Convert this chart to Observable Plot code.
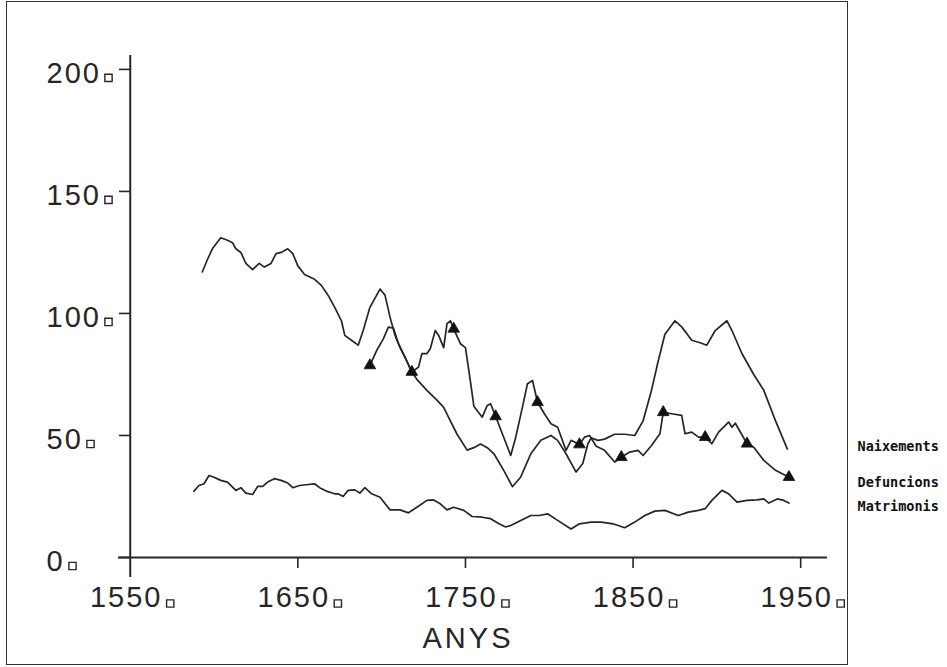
<!DOCTYPE html>
<html>
<head>
<meta charset="utf-8">
<script src="https://cdn.jsdelivr.net/npm/d3@7"></script>
<script src="https://cdn.jsdelivr.net/npm/@observablehq/plot@0.6"></script>
<style>
html, body { margin: 0; padding: 0; background: #fff; }
#wrap { position: relative; width: 947px; height: 667px; overflow: hidden; }
#chart { position: absolute; left: 0; top: 0; }
#border { position: absolute; left: 6px; top: 1px; width: 840px; height: 662px; border: 1.5px solid #333; pointer-events: none; }
</style>
</head>
<body>
<div id="wrap"><div id="chart"></div><div id="border"></div></div>
<script>
// ---- data ----
const xTicks = [1550, 1650, 1750, 1850, 1950];
const yTicks = [0, 50, 100, 150, 200];
const xTitle = "ANYS";
const legendNames = ["Naixements", "Defuncions", "Matrimonis"];

// [year, value]
const naixements = [
  [1593,117],[1596,122],[1599,126.5],[1604,131],[1608,130],[1611,129],[1613,126.5],[1616,125],
  [1619,120.5],[1623,118],[1627,120.5],[1630,119],[1634,120.5],[1637,124.5],[1640,125],[1644,126.5],
  [1647,124.5],[1650,119.5],[1654,116],[1660,114],[1664,111.5],[1668,107.5],[1672,102.5],[1676,97],
  [1678,91],[1683,88.5],[1686,87],[1689,93],[1693,102.5],[1699,110],[1702,107.5],[1705,98.5],
  [1708,91],[1711,86],[1715,80.5],[1718,76],[1721,73],[1727,68.5],[1733,64.5],[1737,61.5],
  [1741,56],[1745,50.5],[1751,44],[1755,45],[1759,46.5],[1763,45],[1767,42.5],[1773,35.5],
  [1778,29],[1783,33],[1789,42.5],[1795,48],[1801,50],[1805,48],[1810,42.5],[1816,35],
  [1820,38.5],[1823,46.5],[1825,49],[1829,48],[1833,48.5],[1839,50.5],[1845,50.5],[1851,50],
  [1856,56],[1861,68.5],[1865,80.5],[1869,91.5],[1875,97],[1879,94.5],[1885,89],[1890,88],
  [1894,87],[1899,93],[1906,97],[1909,93],[1915,83.5],[1922,75],[1928,68.5],[1935,56],[1942,44.5]
];
const defuncions = [
  [1693,78.7],[1697,84.8],[1701,89.6],[1704,94.4],[1707,94],[1710,87.6],[1714,82],[1718,76],
  [1722,78],[1724,83.5],[1727,83.5],[1729,85.5],[1732,93],[1734,91],[1737,86],[1739,95.8],
  [1741,97],[1743,93.7],[1747,87.6],[1750,86],[1753,72],[1755,62],[1760,57.5],[1763,62.3],
  [1765,63],[1768,57.8],[1772,50.7],[1777,41.8],[1780,49.3],[1784,61.6],[1787,71.2],[1790,72.5],
  [1793,63.6],[1797,59],[1801,54.8],[1805,53.4],[1810,43.9],[1813,48],[1818,46.3],[1821,49.3],
  [1824,50],[1828,45.6],[1833,43.9],[1839,39.1],[1843,41.1],[1848,43.2],[1853,43.9],[1856,41.8],
  [1861,45.9],[1866,50.7],[1868,59.5],[1873,58.9],[1879,58.2],[1881,50.7],[1885,51.4],[1889,49.3],
  [1893,49.3],[1897,46.6],[1901,51.4],[1907,55.5],[1909,53.4],[1911,55],[1918,46.6],[1922,45.2],
  [1928,39.8],[1935,35.7],[1943,32.9]
];
const defuncionsMarkerYears = [1693,1718,1743,1768,1793,1818,1843,1868,1893,1918,1943];
const matrimonis = [
  [1588,27.2],[1591,29.5],[1594,30.2],[1597,33.6],[1600,32.9],[1604,31.6],[1608,30.9],[1613,27.5],
  [1616,28.6],[1619,26.4],[1623,25.8],[1626,29.1],[1629,29.1],[1632,30.9],[1636,32.3],[1640,31.6],
  [1644,30.5],[1647,28.6],[1651,29.5],[1655,29.8],[1660,30.2],[1663,28.6],[1667,27.2],[1672,26.1],
  [1674,26.1],[1677,25],[1680,27.5],[1684,27.7],[1687,26.4],[1690,28.6],[1694,26.1],[1699,24.7],
  [1705,19.5],[1711,19.5],[1716,18.3],[1721,20.6],[1727,23.4],[1731,23.6],[1735,22],[1739,19.5],
  [1743,20.6],[1749,19.3],[1754,16.8],[1760,16.5],[1765,15.9],[1770,13.8],[1774,12.5],[1777,13.1],
  [1783,15.2],[1789,17.2],[1794,17.2],[1799,17.9],[1805,15.2],[1813,11.7],[1818,13.8],[1825,14.5],
  [1831,14.5],[1838,13.8],[1845,12.2],[1851,14.5],[1857,17.2],[1863,19],[1869,19.3],[1877,17.2],
  [1883,18.6],[1889,19.3],[1893,20],[1897,23.4],[1903,27.5],[1907,26.1],[1912,22.7],[1918,23.4],
  [1924,23.6],[1928,24],[1931,22.3],[1936,24],[1940,23.4],[1943,22.3]
];

// ---- build table ----
const seriesList = [
  {name: legendNames[0], data: naixements},
  {name: legendNames[1], data: defuncions},
  {name: legendNames[2], data: matrimonis}
];
const rows = seriesList.flatMap(s => s.data.map(([year, value]) => ({serie: s.name, year, value})));
const markerRows = defuncions
  .filter(([year]) => defuncionsMarkerYears.includes(year))
  .map(([year, value]) => ({year, value}));

const ink = "#262626";
const labelFont = 29;

const ySquareMarks = [1, 2, 3].map(n =>
  Plot.dot(yTicks.filter(d => String(d).length === n), {
    frameAnchor: "left", y: d => d, dx: 18 * n - 64, dy: 8.5,
    symbol: "square", r: 4.1, fill: "white", stroke: ink, strokeWidth: 1.4
  })
);

const legendDy = [391.5, 427, 451];

const plot = Plot.plot({
  width: 947,
  height: 667,
  marginLeft: 118,
  marginRight: 120,
  marginTop: 55,
  marginBottom: 90,
  x: {domain: [1543, 1966]},
  y: {domain: [-8.2, 205.7]},
  style: {background: "white", color: ink, fontFamily: "'Liberation Sans', Arial, sans-serif", overflow: "visible"},
  marks: [
    Plot.ruleX([xTicks[0]], {stroke: ink, strokeWidth: 2}),
    Plot.ruleY([0], {stroke: ink, strokeWidth: 2.2}),
    Plot.axisY({ticks: yTicks, tickSize: 11, dx: 12, tickFormat: () => "", label: null, strokeWidth: 1.6, stroke: ink}),
    Plot.axisX({ticks: xTicks.slice(1), tickSize: 11, dy: -20, tickFormat: () => "", label: null, strokeWidth: 1.6, stroke: ink}),
    Plot.line(rows, {x: "year", y: "value", z: "serie", stroke: ink, strokeWidth: 1.7, strokeLinejoin: "round"}),
    Plot.dot(markerRows, {x: "year", y: "value", symbol: "triangle", r: 4.3, fill: "#111", stroke: "#111", strokeWidth: 0.8}),
    // y labels
    Plot.text(yTicks, {frameAnchor: "left", y: d => d, text: d => String(d), dx: -72, dy: 4,
      textAnchor: "start", lineAnchor: "middle", fontSize: labelFont, fill: ink}),
    ...ySquareMarks,
    // x labels
    Plot.text(xTicks, {x: d => d, frameAnchor: "bottom", text: d => String(d), dx: -4, dy: 20,
      textAnchor: "middle", lineAnchor: "middle", fontSize: labelFont, fill: ink}),
    Plot.dot(xTicks, {x: d => d, frameAnchor: "bottom", dx: 40, dy: 26,
      symbol: "square", r: 4.1, fill: "white", stroke: ink, strokeWidth: 1.4}),
    // x title
    Plot.text([xTitle], {frameAnchor: "bottom", text: d => d, dx: -5, dy: 61.5, lineAnchor: "middle",
      fontSize: 29, fill: ink}),
    // legend
    ...legendNames.map((name, i) => Plot.text([name], {frameAnchor: "top-right", text: d => d,
      dx: 30, dy: legendDy[i], textAnchor: "start", lineAnchor: "middle", fontSize: 13.5, fontWeight: "bold",
      fontFamily: "'DejaVu Sans Mono', monospace", fill: "#111"}))
  ]
});

document.getElementById("chart").appendChild(plot);
// letter spacing for the plotter-style labels
const tickStrings = [...xTicks, ...yTicks].map(String);
plot.querySelectorAll("text").forEach(t => {
  const s = t.textContent;
  if (tickStrings.includes(s)) t.setAttribute("letter-spacing", "2");
  else if (s === xTitle) t.setAttribute("letter-spacing", "3");
});
</script>
</body>
</html>
